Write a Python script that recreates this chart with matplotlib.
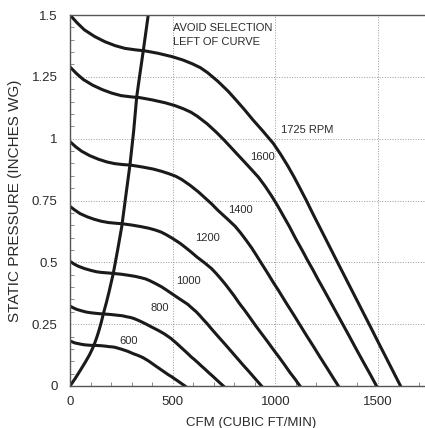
import numpy as np
import matplotlib.pyplot as plt
from matplotlib.ticker import MultipleLocator

plt.rcParams['font.family'] = ['Liberation Sans', 'DejaVu Sans']

# fan curves: (cfm, static pressure)
rpm_1725_cfm = [0, 35, 70, 120, 170, 220, 268, 320, 365, 430, 500, 550, 595, 635, 670, 720, 770, 810, 850, 890,
                940, 990, 1025, 1060, 1090, 1120, 1150, 1185, 1220, 1250, 1275, 1300, 1340, 1380, 1420, 1460, 1500, 1540, 1575, 1610]
rpm_1725_sp = [1.500, 1.468, 1.440, 1.413, 1.392, 1.376, 1.365, 1.359, 1.355, 1.345, 1.331, 1.318, 1.303, 1.287, 1.267, 1.232, 1.192, 1.155, 1.117, 1.077,
               1.030, 0.981, 0.938, 0.891, 0.847, 0.800, 0.752, 0.693, 0.636, 0.587, 0.546, 0.505, 0.440, 0.375, 0.310, 0.245, 0.179, 0.114, 0.057, 0.0]

rpm_1600_cfm = [0, 32, 65, 111, 158, 204, 249, 297, 339, 399, 464, 510, 552, 589, 621, 668, 714, 751, 788, 826,
                872, 918, 951, 983, 1011, 1039, 1067, 1099, 1132, 1159, 1183, 1206, 1243, 1280, 1317, 1354, 1391, 1428, 1461, 1493]
rpm_1600_sp = [1.290, 1.263, 1.239, 1.216, 1.198, 1.184, 1.174, 1.169, 1.166, 1.157, 1.145, 1.134, 1.121, 1.107, 1.090, 1.060, 1.025, 0.994, 0.961, 0.927,
               0.886, 0.844, 0.807, 0.767, 0.729, 0.688, 0.647, 0.596, 0.547, 0.505, 0.470, 0.434, 0.379, 0.323, 0.267, 0.211, 0.154, 0.098, 0.049, 0.0]

rpm_1400_cfm = [0, 28, 57, 97, 138, 179, 218, 260, 296, 349, 406, 446, 483, 515, 544, 584, 625, 657, 690, 722,
                763, 804, 832, 860, 885, 909, 933, 962, 990, 1015, 1035, 1055, 1088, 1120, 1152, 1185, 1217, 1250, 1278, 1307]
rpm_1400_sp = [0.988, 0.967, 0.949, 0.931, 0.917, 0.906, 0.899, 0.895, 0.893, 0.886, 0.877, 0.868, 0.858, 0.848, 0.835, 0.812, 0.785, 0.761, 0.736, 0.709,
               0.678, 0.646, 0.618, 0.587, 0.558, 0.527, 0.495, 0.457, 0.419, 0.387, 0.360, 0.333, 0.290, 0.247, 0.204, 0.161, 0.118, 0.075, 0.038, 0.0]

rpm_1200_cfm = [0, 24, 49, 84, 118, 153, 186, 223, 254, 299, 348, 383, 414, 442, 466, 501, 536, 564, 591, 619,
                654, 689, 713, 737, 758, 779, 800, 824, 849, 870, 887, 904, 932, 960, 988, 1016, 1044, 1071, 1096, 1120]
rpm_1200_sp = [0.726, 0.711, 0.697, 0.684, 0.674, 0.666, 0.661, 0.658, 0.656, 0.651, 0.644, 0.638, 0.631, 0.623, 0.613, 0.596, 0.577, 0.559, 0.541, 0.521,
               0.499, 0.475, 0.454, 0.431, 0.410, 0.387, 0.364, 0.335, 0.308, 0.284, 0.264, 0.244, 0.213, 0.182, 0.150, 0.119, 0.087, 0.055, 0.028, 0.0]

rpm_1000_cfm = [0, 20, 41, 70, 99, 128, 155, 186, 212, 249, 290, 319, 345, 368, 388, 417, 446, 470, 493, 516,
                545, 574, 594, 615, 632, 649, 667, 687, 707, 725, 739, 754, 777, 800, 823, 846, 870, 893, 913, 933]
rpm_1000_sp = [0.504, 0.493, 0.484, 0.475, 0.468, 0.462, 0.459, 0.457, 0.455, 0.452, 0.447, 0.443, 0.438, 0.433, 0.426, 0.414, 0.401, 0.388, 0.375, 0.362,
               0.346, 0.330, 0.315, 0.300, 0.285, 0.269, 0.253, 0.233, 0.214, 0.197, 0.184, 0.170, 0.148, 0.126, 0.104, 0.082, 0.060, 0.038, 0.019, 0.0]

rpm_800_cfm = [0, 16, 32, 56, 79, 102, 124, 148, 169, 199, 232, 255, 276, 295, 311, 334, 357, 376, 394, 413,
               436, 459, 475, 492, 506, 520, 533, 550, 566, 580, 591, 603, 622, 640, 659, 677, 696, 714, 731, 747]
rpm_800_sp = [0.323, 0.316, 0.310, 0.304, 0.299, 0.296, 0.294, 0.292, 0.291, 0.289, 0.286, 0.284, 0.280, 0.277, 0.273, 0.265, 0.256, 0.248, 0.240, 0.232,
              0.222, 0.211, 0.202, 0.192, 0.182, 0.172, 0.162, 0.149, 0.137, 0.126, 0.117, 0.109, 0.095, 0.081, 0.067, 0.053, 0.039, 0.025, 0.012, 0.0]

rpm_600_cfm = [0, 12, 24, 42, 59, 77, 93, 111, 127, 150, 174, 191, 207, 221, 233, 250, 268, 282, 296, 310,
               327, 344, 357, 369, 379, 390, 400, 412, 424, 435, 443, 452, 466, 480, 494, 508, 522, 536, 548, 560]
rpm_600_sp = [0.182, 0.178, 0.174, 0.171, 0.168, 0.166, 0.165, 0.164, 0.164, 0.163, 0.161, 0.159, 0.158, 0.156, 0.153, 0.149, 0.144, 0.140, 0.135, 0.130,
              0.125, 0.119, 0.114, 0.108, 0.103, 0.097, 0.091, 0.084, 0.077, 0.071, 0.066, 0.061, 0.053, 0.045, 0.038, 0.030, 0.022, 0.014, 0.007, 0.0]

# "avoid selection" boundary
limit_cfm = [0, 25, 50, 75, 95, 110, 122, 133, 143, 153, 165, 178, 190, 211, 232, 252, 272, 292, 310, 325, 342, 357, 381]
limit_sp = [0.0, 0.03, 0.063, 0.097, 0.126, 0.152, 0.177, 0.203, 0.230, 0.260, 0.300, 0.340, 0.380, 0.456, 0.55, 0.644, 0.77, 0.894, 1.03, 1.17, 1.27, 1.356, 1.5]

curves = [
    (rpm_1725_cfm, rpm_1725_sp),
    (rpm_1600_cfm, rpm_1600_sp),
    (rpm_1400_cfm, rpm_1400_sp),
    (rpm_1200_cfm, rpm_1200_sp),
    (rpm_1000_cfm, rpm_1000_sp),
    (rpm_800_cfm, rpm_800_sp),
    (rpm_600_cfm, rpm_600_sp),
]

# label text and where it sits
labels = ['1725 RPM', '1600', '1400', '1200', '1000', '800', '600']
label_x = [1028, 1000, 770, 609, 515, 394, 240]
label_y = [1.035, 0.925, 0.712, 0.597, 0.425, 0.317, 0.182]
label_ha = ['left', 'right', 'left', 'left', 'left', 'left', 'left']

fig = plt.figure(figsize=(4.25, 4.28), dpi=100)
ax = fig.add_axes([70 / 425, 42 / 428, 359.3 / 425, 371 / 428])

ink = '#1a1a1a'
txt = '#2a2a2a'
for cfm, sp in curves:
    ax.plot(cfm, sp, color=ink, lw=2.2, solid_joinstyle='round')
ax.plot(limit_cfm, limit_sp, color=ink, lw=2.2, solid_joinstyle='round')

for t, x, y, ha in zip(labels, label_x, label_y, label_ha):
    ax.text(x, y, t, ha=ha, va='center', fontsize=8, color=txt)

ax.text(502, 1.448, 'AVOID SELECTION', ha='left', va='center', fontsize=8, color=txt)
ax.text(502, 1.391, 'LEFT OF CURVE', ha='left', va='center', fontsize=8, color=txt)

ax.set_xlim(0, 1750)
ax.set_ylim(0, 1.5)
ax.xaxis.set_minor_locator(MultipleLocator(100))
ax.yaxis.set_minor_locator(MultipleLocator(0.05))
ax.set_yticks([0, 0.25, 0.5, 0.75, 1, 1.25, 1.5])
ax.set_yticklabels(['0', '0.25', '0.5', '0.75', '1', '1.25', '1.5'])
ax.set_xticks([0, 500, 1000, 1500])
ax.set_xticklabels(['0', '500', '1000', '1500'])

ax.grid(True, which='major', color='#999999', ls=':', lw=0.7)
ax.tick_params(which='both', direction='in', color='#777777', labelsize=9.5, labelcolor=txt)
ax.tick_params(which='major', length=0, pad=9)
ax.tick_params(which='minor', length=3, width=0.6)
ax.tick_params(axis='x', which='major', pad=7)

for s in ['left', 'bottom', 'top']:
    ax.spines[s].set_color('#555555')
    ax.spines[s].set_linewidth(1.0)
ax.spines['right'].set_visible(False)

fig.text(251 / 425, 1 - 426 / 428, 'CFM (CUBIC FT/MIN)', ha='center', va='baseline',
         fontsize=9.5, color=txt)
ax.set_ylabel('STATIC PRESSURE (INCHES WG)', fontsize=11, color=txt, labelpad=7)

fig.savefig('out.png', dpi=100)
